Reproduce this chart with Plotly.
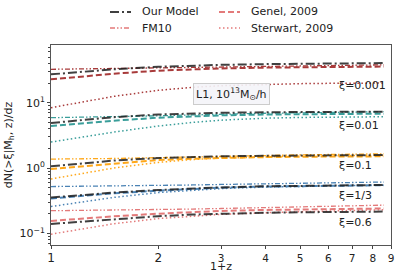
import plotly.graph_objects as go

# 1+z grid
x = [1.0, 1.25, 1.5, 2.0, 2.5, 3.0, 4.0, 5.0, 6.0, 7.0, 8.6]

# xi = 0.001
m_0001 = [27.2, 30.0, 32.5, 35.5, 37.0, 38.0, 39.0, 39.5, 40.0, 40.3, 40.5]
g_0001 = [22.8, 25.5, 27.8, 31.0, 32.5, 33.5, 34.5, 35.0, 35.3, 35.5, 35.8]
f_0001 = [32.5, 33.0, 33.5, 34.5, 35.2, 35.8, 36.5, 37.0, 37.3, 37.6, 38.0]
s_0001 = [8.4, 10.5, 12.5, 15.5, 17.2, 18.2, 19.2, 19.6, 19.8, 19.9, 20.0]
# xi = 0.01
m_001 = [4.9, 5.5, 6.0, 6.6, 6.9, 7.0, 7.15, 7.2, 7.25, 7.25, 7.3]
g_001 = [4.4, 4.9, 5.3, 5.9, 6.2, 6.4, 6.6, 6.7, 6.75, 6.8, 6.8]
f_001 = [5.9, 6.0, 6.1, 6.3, 6.5, 6.7, 6.9, 7.0, 7.1, 7.2, 7.3]
s_001 = [2.5, 3.05, 3.55, 4.4, 5.0, 5.4, 5.8, 5.95, 6.0, 6.05, 6.1]
# xi = 0.1
m_01 = [1.06, 1.2, 1.3, 1.42, 1.48, 1.51, 1.54, 1.55, 1.56, 1.57, 1.58]
g_01 = [0.97, 1.08, 1.18, 1.32, 1.39, 1.43, 1.47, 1.49, 1.5, 1.5, 1.51]
f_01 = [1.37, 1.38, 1.4, 1.44, 1.48, 1.52, 1.56, 1.59, 1.61, 1.63, 1.65]
s_01 = [0.68, 0.85, 1.0, 1.22, 1.35, 1.42, 1.49, 1.52, 1.54, 1.55, 1.56]
# xi = 1/3
m_033 = [0.353, 0.39, 0.42, 0.46, 0.49, 0.505, 0.525, 0.535, 0.54, 0.545, 0.55]
g_033 = [0.34, 0.38, 0.41, 0.45, 0.48, 0.50, 0.52, 0.53, 0.535, 0.54, 0.545]
f_033 = [0.52, 0.525, 0.53, 0.54, 0.55, 0.56, 0.575, 0.585, 0.595, 0.60, 0.61]
s_033 = [0.257, 0.31, 0.355, 0.42, 0.46, 0.485, 0.51, 0.525, 0.535, 0.54, 0.545]
# xi = 0.6
m_06 = [0.139, 0.153, 0.165, 0.183, 0.194, 0.2, 0.206, 0.21, 0.212, 0.214, 0.215]
g_06 = [0.155, 0.17, 0.182, 0.2, 0.212, 0.22, 0.228, 0.233, 0.236, 0.238, 0.24]
f_06 = [0.222, 0.224, 0.226, 0.23, 0.235, 0.24, 0.248, 0.255, 0.26, 0.265, 0.27]
s_06 = [0.097, 0.12, 0.14, 0.168, 0.185, 0.195, 0.207, 0.215, 0.22, 0.225, 0.23]

xi_labels = ["ξ=0.001", "ξ=0.01", "ξ=0.1", "ξ=1/3", "ξ=0.6"]
legend_names = ["Our Model", "FM10", "Genel, 2009", "Sterwart, 2009"]
x_tickvals = [1, 2, 3, 4, 5, 6, 7, 8, 9]
y_tickvals = [0.1, 1, 10]
y_ticktext = ["10<sup>−1</sup>", "10<sup>0</sup>", "10<sup>1</sup>"]

groups = [
    ("#a83a3a", m_0001, g_0001, f_0001, s_0001),
    ("#3a9e9a", m_001, g_001, f_001, s_001),
    ("#ffa81a", m_01, g_01, f_01, s_01),
    ("#4a82b4", m_033, g_033, f_033, s_033),
    ("#e37a7a", m_06, g_06, f_06, s_06),
]

MODEL_COL = "rgba(30,30,30,0.85)"
DASH_MODEL = "9px,3px,2px,3px"
DASH_FM = "5px,2px,1.5px,2px,1.5px,2px"
DASH_GENEL = "6px,3px"
DASH_ST = "1.5px,2.5px"

fig = go.Figure()
for col, m, g, f, s in groups:
    fig.add_trace(go.Scatter(x=x, y=f, mode="lines", showlegend=False,
                             line=dict(color=col, width=1.3, dash=DASH_FM)))
    fig.add_trace(go.Scatter(x=x, y=s, mode="lines", showlegend=False,
                             line=dict(color=col, width=1.5, dash=DASH_ST)))
    fig.add_trace(go.Scatter(x=x, y=g, mode="lines", showlegend=False,
                             line=dict(color=col, width=2, dash=DASH_GENEL)))
    fig.add_trace(go.Scatter(x=x, y=m, mode="lines", showlegend=False,
                             line=dict(color=MODEL_COL, width=2, dash=DASH_MODEL)))

PL, PR, PT, PB = 51, 391, 45, 245   # plot area in page pixels


def px_x(p):
    return (p - PL) / (PR - PL)


def px_y(p):
    return (PB - p) / (PB - PT)


leg_col = "#e37a7a"
leg_specs = [
    (legend_names[0], MODEL_COL, DASH_MODEL, 2, 110, 12),
    (legend_names[1], leg_col, DASH_FM, 1.3, 110, 28),
    (legend_names[2], leg_col, DASH_GENEL, 2, 219, 12),
    (legend_names[3], leg_col, DASH_ST, 1.5, 219, 28),
]
for name, col, dash, w, lx, ly in leg_specs:
    fig.add_shape(type="line", xref="paper", yref="paper",
                  x0=px_x(lx), x1=px_x(lx + 21), y0=px_y(ly), y1=px_y(ly),
                  line=dict(color=col, width=w, dash=dash))
    fig.add_annotation(text=name, xref="paper", yref="paper",
                       x=px_x(lx + 30), y=px_y(ly), showarrow=False,
                       xanchor="left", yanchor="middle",
                       font=dict(size=11, color="#222"))

fig.update_layout(
    width=399, height=274,
    margin=dict(l=PL, r=399 - PR, t=PT, b=274 - PB),
    plot_bgcolor="white", paper_bgcolor="white",
    font=dict(family="DejaVu Sans", size=11, color="#222"),
    showlegend=False,
    xaxis=dict(type="log", range=[0, 0.9542], tickvals=x_tickvals,
               ticktext=['<span style="font-size:12px">1</span>', '<span style="font-size:12px">2</span>']
               + ['<span style="font-size:10.5px">%d</span>' % v for v in x_tickvals[2:]],
               ticks="outside", ticklen=3, tickcolor="#444", showgrid=False, zeroline=False,
               showline=True, linecolor="#555", linewidth=1, mirror=True, automargin=False),
    yaxis=dict(type="log", range=[-1.179, 1.884], tickvals=y_tickvals, ticktext=y_ticktext,
               ticks="outside", ticklen=3, tickcolor="#444", showgrid=False, zeroline=False,
               showline=True, linecolor="#555", linewidth=1, mirror=True, automargin=False,
               tickfont=dict(size=11),
               minor=dict(ticks="outside", ticklen=2, tickcolor="#444",
                          tickvals=[0.07, 0.08, 0.09, 0.2, 0.3, 0.4, 0.5, 0.6, 0.7, 0.8, 0.9,
                                    2, 3, 4, 5, 6, 7, 8, 9, 20, 30, 40, 50, 60, 70]),
               title=dict(text="dN(>ξ|M<sub>h</sub>, z)/dz", font=dict(size=11), standoff=4)),
)

# x-axis title
fig.add_annotation(text="1+z", xref="paper", yref="paper",
                   x=0.5, y=px_y(266.5), showarrow=False,
                   xanchor="center", yanchor="middle", font=dict(size=11, color="#222"))

label_y = [85, 125, 165, 195, 222]
for txt, py in zip(xi_labels, label_y):
    fig.add_annotation(text=txt, xref="paper", yref="paper",
                       x=px_x(337), y=px_y(py),
                       showarrow=False, font=dict(size=11, color="#222"),
                       xanchor="left", yanchor="middle")

fig.add_annotation(text="L1, 10<sup>13</sup>M<sub>⊙</sub>/h", xref="paper", yref="paper",
                   x=px_x(231), y=px_y(94), showarrow=False,
                   xanchor="center", yanchor="middle",
                   font=dict(size=11, color="#222"),
                   bgcolor="rgba(244,244,248,0.9)", bordercolor="#cccccc",
                   borderwidth=1, borderpad=2)

fig.write_html("out.html", config={"displayModeBar": False},
               post_script="document.body.style.margin='0';document.body.style.overflow='hidden';")
